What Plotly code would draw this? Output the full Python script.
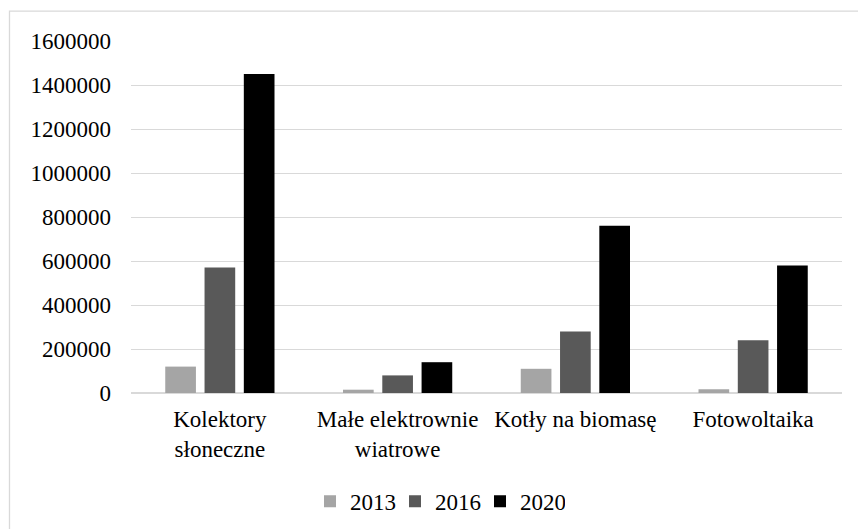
import plotly.graph_objects as go

categories = ["Kolektory<br>słoneczne", "Małe elektrownie<br>wiatrowe", "Kotły na biomasę", "Fotowoltaika"]
series_names = ["2013", "2016", "2020"]
values_2013 = [120000, 15000, 110000, 17000]
values_2016 = [570000, 80000, 280000, 240000]
values_2020 = [1450000, 140000, 760000, 580000]
colors = ["#a5a5a5", "#595959", "#000000"]
y_ticks = [0, 200000, 400000, 600000, 800000, 1000000, 1200000, 1400000, 1600000]

W, H = 858, 529
L, R, T, B = 131, 842, 41, 393.5

fig = go.Figure()
for name, vals, col in zip(series_names, [values_2013, values_2016, values_2020], colors):
    fig.add_trace(go.Bar(name=name, x=categories, y=vals, marker=dict(color=col, line=dict(width=0))))

font = dict(family="'Liberation Serif', 'Times New Roman', serif", size=23, color="#000000")

def px2x(p):
    return (p - L) / (R - L)

def py2y(p):
    return (B - p) / (B - T)

fig.update_layout(
    template="none",
    width=W, height=H,
    margin=dict(l=L, r=W - R, t=T, b=H - B, autoexpand=False),
    paper_bgcolor="white", plot_bgcolor="white",
    font=font,
    barmode="group", bargap=0.337, bargroupgap=0.219,
    showlegend=True,
    legend=dict(orientation="h", x=px2x(310), xanchor="left", y=py2y(502), yanchor="middle",
                font=font, itemwidth=30, entrywidth=40, entrywidthmode="pixels",
                traceorder="normal", bgcolor="rgba(0,0,0,0)"),
    shapes=[dict(type="rect", xref="paper", yref="paper",
                 x0=px2x(9.5), x1=px2x(880), y0=py2y(545), y1=py2y(11),
                 line=dict(color="#d9d9d9", width=1.3), fillcolor="rgba(0,0,0,0)", layer="below")],
)
fig.update_yaxes(range=[0, 1600000], tickvals=y_ticks, tickformat="d", automargin=False,
                 showgrid=True, gridcolor="#d9d9d9", gridwidth=1.3,
                 zeroline=True, zerolinecolor="#d9d9d9", zerolinewidth=1.5,
                 showline=False, ticks="", ticklabelstandoff=19, tickfont=font)
fig.update_xaxes(showline=False, showgrid=False, ticks="", tickfont=font, ticklabelstandoff=10,
                 automargin=False)

fig.write_html("out.html")
